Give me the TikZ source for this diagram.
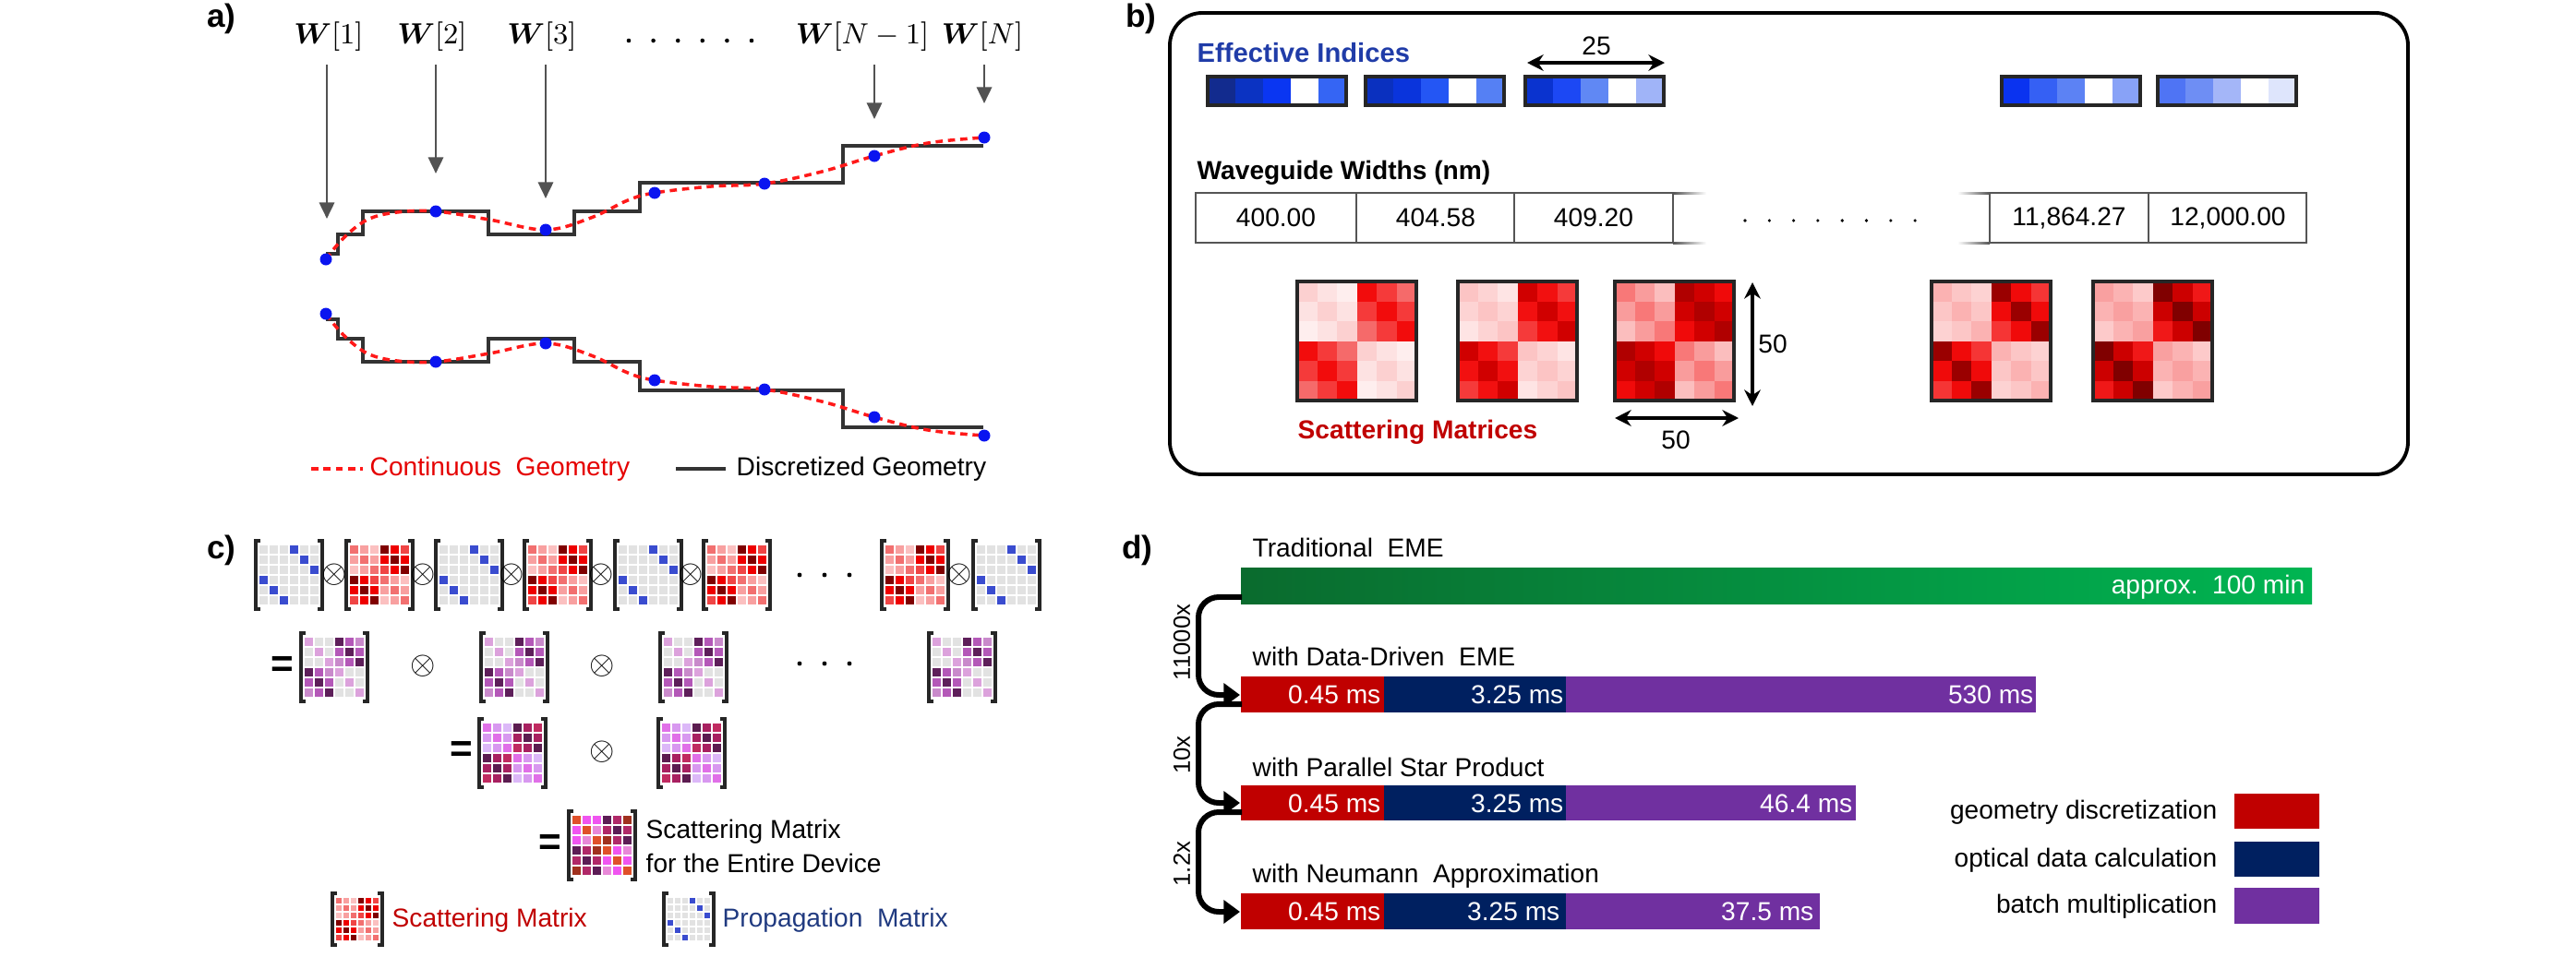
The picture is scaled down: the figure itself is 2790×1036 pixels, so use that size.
\documentclass[tikz,border=0pt]{standalone}
\usepackage{fontspec}
\setmainfont{Liberation Sans}
\usepackage{amsmath}
\usetikzlibrary{arrows.meta}
\definecolor{cred}{HTML}{C00000}
\definecolor{cnavy}{HTML}{002060}
\definecolor{cpurple}{HTML}{7030A0}
\definecolor{gdark}{HTML}{0A6B2E}
\definecolor{glight}{HTML}{00B552}
\definecolor{eiblue}{HTML}{203CA8}
\definecolor{propblue}{HTML}{203A80}
\definecolor{tbc}{HTML}{555555}
\definecolor{dotblue}{HTML}{0A14F0}
\newcommand\cgapv{0}
\newcommand\smat[9]{%
 \foreach \rr in {0,...,5}{%
  \foreach \qq in {0,...,5}{%
   \pgfmathtruncatemacro\blk{mod(int(\rr/3)+int(\qq/3),2)}%
   \pgfmathtruncatemacro\dd{abs(mod(\rr,3)-mod(\qq,3))}%
   \ifnum\blk=0
     \ifcase\dd\relax \def\cc{#4}\or \def\cc{#5}\else \def\cc{#6}\fi
   \else
     \ifcase\dd\relax \def\cc{#7}\or \def\cc{#8}\else \def\cc{#9}\fi
   \fi
   \edef\tmp{\noexpand\definecolor{tmpc}{HTML}{\cc}}\tmp
   \fill[tmpc] ({#1+\qq*#3+\cgapv/2},{#2+\rr*#3+\cgapv/2}) rectangle ({#1+(\qq+1)*#3-\cgapv/2},{#2+(\rr+1)*#3-\cgapv/2});
  }}}
\newcommand\lmat[4]{%
 \foreach \cc [count=\kk from 0] in {#4}{%
   \pgfmathtruncatemacro\rr{int(\kk/6)}%
   \pgfmathtruncatemacro\qq{mod(\kk,6)}%
   \edef\tmp{\noexpand\definecolor{tmpc}{HTML}{\cc}}\tmp
   \fill[tmpc] ({#1+\qq*#3+\cgapv/2},{#2+\rr*#3+\cgapv/2}) rectangle ({#1+(\qq+1)*#3-\cgapv/2},{#2+(\rr+1)*#3-\cgapv/2});
 }}
\newcommand\ebar[7]{%
 \foreach \cc [count=\kk from 0] in {#3,#4,#5,#6,#7}{%
   \edef\tmp{\noexpand\definecolor{tmpc}{HTML}{\cc}}\tmp
   \fill[tmpc] ({#1+\kk*30},#2) rectangle ({#1+(\kk+1)*30},{#2+31});
 }
 \draw[line width=1pt, black!85] (#1,#2) rectangle ({#1+150},{#2+31});}
\newcommand\brk[4]{%
 \draw[brk] ({#1+5},{#2-1}) -- ({#1},{#2-1}) -- ({#1},{#2+#4+1}) -- ({#1+5},{#2+#4+1});
 \draw[brk] ({#1+#3-5},{#2-1}) -- ({#1+#3},{#2-1}) -- ({#1+#3},{#2+#4+1}) -- ({#1+#3-5},{#2+#4+1});}
\newcommand\Pmat[2]{\smat{#1+3}{#2+3}{11}{E2E2E2}{E2E2E2}{E2E2E2}{3A4CCF}{E2E2E2}{E2E2E2}\brk{#1}{#2}{72}{72}}
\newcommand\Smat[2]{\smat{#1+3}{#2+3}{11}{F27070}{F8A0A0}{FBC0C0}{800000}{EE0000}{F04545}\brk{#1}{#2}{72}{72}}
\newcommand\Umat[2]{\smat{#1+3}{#2+3}{11}{DCA2DC}{E2E2E2}{E2E2E2}{5E1F5A}{B458B8}{C98ACB}\brk{#1}{#2}{72}{72}}
\newcommand\Mmat[2]{\smat{#1+3}{#2+3}{11}{E070E8}{D898F0}{DCB8F8}{5C1C50}{A82060}{C02A60}\brk{#1}{#2}{72}{72}}
\begin{document}
\begin{tikzpicture}[x=0.01cm,y=-0.01cm,
  every node/.style={font=\fontsize{8}{9.6}\selectfont, inner sep=0pt},
  plbl/.style={font=\fontsize{10}{12}\selectfont\bfseries},
  wlbl/.style={font=\fontsize{9}{11}\selectfont},
  warr/.style={draw=black!68, line width=0.8pt, -{Triangle[length=5pt,width=4.6pt]}},
  stair/.style={draw=black!80, line width=0.9pt},
  cdash/.style={draw=red!90!white, line width=1pt, dash pattern=on 2.2pt off 1.6pt},
  bdot/.style={fill=dotblue},
  brk/.style={draw=black!85, line width=1pt},
  tb/.style={draw=tbc, line width=0.7pt},
  dimarr/.style={draw=black, line width=0.9pt, {Stealth[length=5pt,width=5pt]}-{Stealth[length=5pt,width=5pt]}},
  carr/.style={draw=black, line width=1.7pt, rounded corners=0.22cm, -{Triangle[length=5pt,width=7pt]}},
  otim/.style={font=\fontsize{10}{10}\selectfont},
  eqs/.style={font=\fontsize{12}{12}\selectfont\bfseries},
  mborder/.style={draw=black!85, line width=0.9pt}]
\useasboundingbox (0,0) rectangle (2790,1036);

%% ---------------- panel a ----------------
\node[plbl] (la) at (240,20) {a)};
\node[wlbl] (w1) at (356,40) {$\boldsymbol{W}[1]$};
\node[wlbl] (w2) at (468,40) {$\boldsymbol{W}[2]$};
\node[wlbl] (w3) at (587,40) {$\boldsymbol{W}[3]$};
\node[wlbl] (wn1) at (934,40) {$\boldsymbol{W}[N-1]$};
\node[wlbl] (wn) at (1064,40) {$\boldsymbol{W}[N]$};
\foreach \i in {0,...,5} \fill (681+\i*26.6,44) circle (2.3);
\coordinate (a1s) at (354,70);  \coordinate (a1t) at (354,237);
\coordinate (a2s) at (472,70);  \coordinate (a2t) at (472,188);
\coordinate (a3s) at (591,70);  \coordinate (a3t) at (591,215);
\coordinate (a4s) at (947,70);  \coordinate (a4t) at (947,129);
\coordinate (a5s) at (1066,70); \coordinate (a5t) at (1066,112);
\draw[warr] (a1s) -- (a1t);
\draw[warr] (a2s) -- (a2t);
\draw[warr] (a3s) -- (a3t);
\draw[warr] (a4s) -- (a4t);
\draw[warr] (a5s) -- (a5t);
% staircases
\draw[stair] (353,275) -- (366,275) -- (366,254) -- (393,254) -- (393,229) -- (529,229) -- (529,254) -- (622,254) -- (622,229) -- (693,229) -- (693,198) -- (913,198) -- (913,158) -- (1065,158);
\draw[stair] (353,346) -- (366,346) -- (366,367) -- (393,367) -- (393,392) -- (529,392) -- (529,367) -- (622,367) -- (622,392) -- (693,392) -- (693,423) -- (913,423) -- (913,463) -- (1065,463);
% continuous curves
\draw[cdash] plot[smooth, tension=0.6] coordinates {(353,281) (372,258) (398,238) (430,230) (472,229) (530,238) (591,249) (640,236) (680,217) (709,209) (770,202) (828,199) (890,186) (947,169) (1005,155) (1066,149)};
\draw[cdash] plot[smooth, tension=0.6] coordinates {(353,340) (372,363) (398,383) (430,391) (472,392) (530,383) (591,372) (640,385) (680,404) (709,412) (770,419) (828,422) (890,435) (947,452) (1005,466) (1066,472)};
\foreach \p in {(353,281),(472,229),(591,249),(709,209),(828,199),(947,169),(1066,149),
                (353,340),(472,392),(591,372),(709,412),(828,422),(947,452),(1066,472)}
  \fill[bdot] \p circle (6.5);
% legend a
\coordinate (lc1) at (337,508); \coordinate (lc2) at (393,508);
\draw[cdash] (lc1) -- (lc2);
\node[anchor=west, text=red!90!black] (lct) at (400,508) {Continuous\ \ Geometry};
\coordinate (ld1) at (732,508); \coordinate (ld2) at (786,508);
\draw[stair] (ld1) -- (ld2);
\node[anchor=west] (ldt) at (797,508) {Discretized Geometry};

%% ---------------- panel b ----------------
\node[plbl] (lb) at (1236,20) {b)};
\draw[line width=1.1pt, rounded corners=0.35cm] (1267,14) rectangle (2608,514);
\node[anchor=west, text=eiblue, font=\fontsize{8.3}{10}\selectfont\bfseries] (ei) at (1296,57) {Effective Indices};
\node (n25) at (1729,50) {25};
\coordinate (d25a) at (1654,68); \coordinate (d25b) at (1803,68);
\draw[dimarr] (d25a) -- (d25b);
\ebar{1308}{83}{122B8E}{0B33C2}{0A36F2}{FFFFFF}{3565F4}
\ebar{1479}{83}{0A30BF}{0A34DC}{2456F4}{FFFFFF}{5580F4}
\ebar{1652}{83}{0A33CF}{1C48F4}{6088F4}{FFFFFF}{A0B4F8}
\ebar{2168}{83}{0A33F0}{3560F4}{5C82F4}{FFFFFF}{88A2F7}
\ebar{2337}{83}{4F74F4}{6E8EF4}{A4B6F8}{FFFFFF}{DEE5FC}
\node[anchor=west, font=\fontsize{8}{10}\selectfont\bfseries] (ww) at (1296,187) {Waveguide Widths (nm)};
\draw[tb] (1295,209) rectangle (1812,263);
\draw[tb] (1469,209) -- (1469,263);
\draw[tb] (1640,209) -- (1640,263);
\shade[left color=tbc, right color=white] (1812,208.3) rectangle (1848,210);
\shade[left color=tbc, right color=white] (1812,262.3) rectangle (1848,264);
\draw[tb] (2155,209) rectangle (2498,263);
\draw[tb] (2327,209) -- (2327,263);
\shade[left color=white, right color=tbc] (2120,208.3) rectangle (2155,210);
\shade[left color=white, right color=tbc] (2120,262.3) rectangle (2155,264);
\node (t1) at (1382,236) {400.00};
\node (t2) at (1555,236) {404.58};
\node (t3) at (1726,236) {409.20};
\node (t4) at (2241,236) {11,864.27};
\node (t5) at (2413,236) {12,000.00};
\foreach \i in {0,...,7} \fill (1890+\i*26.3,239) circle (1.8);
% scattering matrices
\renewcommand\cgapv{0}
\smat{1405}{305}{21.5}{FCD0D0}{FDE2E2}{FEEEEE}{F20C0C}{F53A3A}{F56A6A}
\draw[mborder] (1405,305) rectangle (1534,434);
\smat{1579}{305}{21.5}{FCC4C4}{FDD3D3}{FEE4E4}{D00000}{F21010}{F53A3A}
\draw[mborder] (1579,305) rectangle (1708,434);
\smat{1749}{305}{21.5}{F87878}{F99C9C}{FBBEBE}{B00000}{D00000}{F00A0A}
\draw[mborder] (1749,305) rectangle (1878,434);
\smat{2092}{305}{21.5}{FBB2B2}{FCC6C6}{FDD2D2}{9A0000}{F00A0A}{F53535}
\draw[mborder] (2092,305) rectangle (2221,434);
\smat{2267}{305}{21.5}{F9A0A0}{FBB3B3}{FDCACA}{800000}{CC0000}{F01818}
\draw[mborder] (2267,305) rectangle (2396,434);
\coordinate (v50a) at (1898,306); \coordinate (v50b) at (1898,440);
\draw[dimarr] (v50a) -- (v50b);
\node (n50v) at (1920,373) {50};
\coordinate (h50a) at (1749,453); \coordinate (h50b) at (1883,453);
\draw[dimarr] (h50a) -- (h50b);
\node (n50h) at (1815,477) {50};
\node[anchor=west, text=cred, font=\fontsize{8}{10}\selectfont\bfseries] (sm) at (1405,468) {Scattering Matrices};

%% ---------------- panel c ----------------
\node[plbl] (lc) at (240,596) {c)};
\renewcommand\cgapv{1.6}
\Pmat{277}{587} \Smat{375}{587} \Pmat{472}{587} \Smat{568}{587}
\Pmat{666}{587} \Smat{762}{587} \Smat{955}{587} \Pmat{1054}{587}
\foreach \x/\n in {362/1,458/2,554/3,651/4,748/5,1039/6} \node[otim] (ox\n) at (\x,623) {$\otimes$};
\foreach \i in {0,1,2} \fill (866+\i*27,623) circle (2.4);
% row 2
\node[eqs] (eq1) at (306,723) {=};
\Umat{326}{687} \Umat{521}{687} \Umat{715}{687} \Umat{1006}{687}
\node[otim] (oy1) at (458,722) {$\otimes$};
\node[otim] (oy2) at (652,722) {$\otimes$};
\foreach \i in {0,1,2} \fill (866+\i*27,719) circle (2.4);
% row 3
\node[eqs] (eq2) at (500,815) {=};
\Mmat{519}{780} \Mmat{713}{780}
\node[otim] (oz1) at (652,815) {$\otimes$};
% row 4
\node[eqs] (eq3) at (596,916) {=};
\lmat{619}{883}{11}{E0502A,F055F0,F055F0,5C1C55,B02868,A0301E,
F055F0,E0502A,E888D8,B02868,5C1C55,B02868,
F055F0,E888D8,E0502A,A0301E,B02868,5C1C55,
5C1C55,B02868,A0301E,E0502A,F055F0,E888D8,
B02868,5C1C55,B02868,F055F0,E0502A,F055F0,
A0301E,B02868,5C1C55,E888D8,F055F0,E0502A}
\brk{616}{880}{72}{72}
\node[anchor=west, align=left, font=\fontsize{8}{10.5}\selectfont] (fin) at (699,917) {Scattering Matrix\\for the Entire Device};
% legend c
\smat{363}{972}{8}{F27070}{F8A0A0}{FBC0C0}{800000}{EE0000}{F04545}
\brk{360}{969}{54}{54}
\node[anchor=west, text=cred] (lsm) at (424,997) {Scattering Matrix};
\smat{722}{972}{8}{E2E2E2}{E2E2E2}{E2E2E2}{3A4CCF}{E2E2E2}{E2E2E2}
\brk{719}{969}{54}{54}
\node[anchor=west, text=propblue] (lpm) at (782,997) {Propagation\ \ Matrix};

%% ---------------- panel d ----------------
\node[plbl] (ld) at (1232,596) {d)};
\node[anchor=west] (h1) at (1356,593) {Traditional\ \ EME};
\shade[left color=gdark, right color=glight] (1344,615) rectangle (2504,654);
\node[anchor=east, text=white] (v1) at (2497,636) {approx.\ \ 100 min};
\node[anchor=west] (h2) at (1356,711) {with Data-Driven\ \ EME};
\fill[cred] (1344,733) rectangle (1499,772);
\fill[cnavy] (1499,733) rectangle (1696,772);
\fill[cpurple] (1696,733) rectangle (2205,772);
\node[anchor=east, text=white] (v2a) at (1496,753) {0.45 ms};
\node[anchor=east, text=white] (v2b) at (1694,753) {3.25 ms};
\node[anchor=east, text=white] (v2c) at (2203,753) {530 ms};
\node[anchor=west] (h3) at (1356,831) {with Parallel Star Product};
\fill[cred] (1344,851) rectangle (1499,889);
\fill[cnavy] (1499,851) rectangle (1696,889);
\fill[cpurple] (1696,851) rectangle (2010,889);
\node[anchor=east, text=white] (v3a) at (1496,871) {0.45 ms};
\node[anchor=east, text=white] (v3b) at (1694,871) {3.25 ms};
\node[anchor=east, text=white] (v3c) at (2007,871) {46.4 ms};
\node[anchor=west] (h4) at (1356,949) {with Neumann\ \ Approximation};
\fill[cred] (1344,968) rectangle (1499,1007);
\fill[cnavy] (1499,968) rectangle (1696,1007);
\fill[cpurple] (1696,968) rectangle (1971,1007);
\node[anchor=east, text=white] (v4a) at (1496,988) {0.45 ms};
\node[anchor=east, text=white] (v4b) at (1690,988) {3.25 ms};
\node[anchor=east, text=white] (v4c) at (1965,988) {37.5 ms};
% curved arrows
\coordinate (s1) at (1345,647); \coordinate (e1) at (1343,753);
\coordinate (s2) at (1345,763); \coordinate (e2) at (1343,870);
\coordinate (s3) at (1345,880); \coordinate (e3) at (1343,988);
\draw[carr] (s1) -- (1298,647) -- (1298,753) -- (e1);
\draw[carr] (s2) -- (1298,763) -- (1298,870) -- (e2);
\draw[carr] (s3) -- (1298,880) -- (1298,988) -- (e3);
\node[rotate=90, font=\fontsize{7.3}{9}\selectfont] (f1) at (1280,696) {11000x};
\node[rotate=90, font=\fontsize{7.3}{9}\selectfont] (f2) at (1280,818) {10x};
\node[rotate=90, font=\fontsize{7.3}{9}\selectfont] (f3) at (1280,936) {1.2x};
% legend d
\node[anchor=east] (lg1) at (2402,880) {geometry discretization};
\node[anchor=east] (lg2) at (2402,932) {optical data calculation};
\node[anchor=east] (lg3) at (2402,982) {batch multiplication};
\fill[cred] (2420,860) rectangle (2512,898);
\fill[cnavy] (2420,912) rectangle (2512,950);
\fill[cpurple] (2420,962) rectangle (2512,1001);
\end{tikzpicture}
\end{document}
